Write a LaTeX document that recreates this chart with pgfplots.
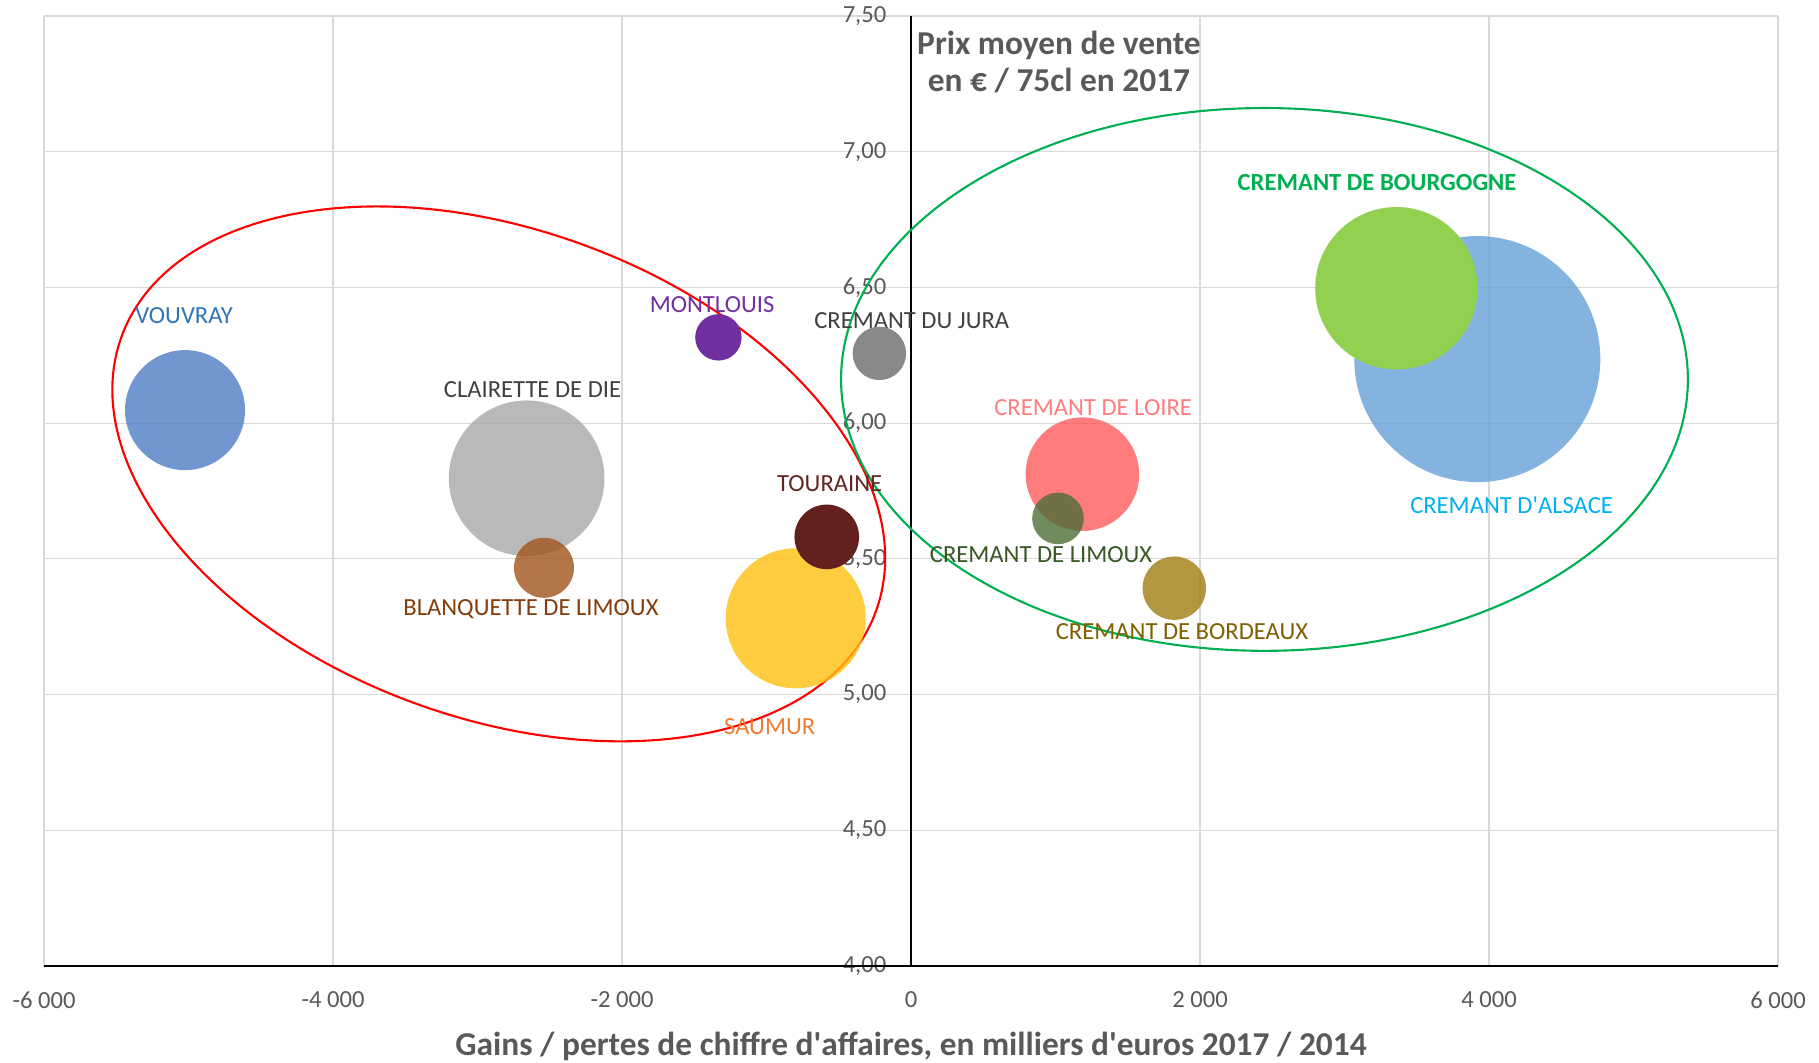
\documentclass[border=0pt]{standalone}
\usepackage{fontspec}
\setmainfont{Carlito}
\usepackage{pgfplots}
\usepackage{pgfplotstable}
\pgfplotsset{compat=1.18}

\definecolor{gridgray}{RGB}{217,217,217}
\definecolor{txtgray}{RGB}{89,89,89}
% bubble fills
\definecolor{bVou}{RGB}{79,124,196}
\definecolor{bCla}{RGB}{168,168,168}
\definecolor{bBla}{RGB}{161,84,28}
\definecolor{bMon}{RGB}{112,48,160}
\definecolor{bJur}{RGB}{137,137,137}
\definecolor{bSau}{RGB}{255,191,16}
\definecolor{bTou}{RGB}{99,32,30}
\definecolor{bLoi}{RGB}{255,91,91}
\definecolor{bLim}{RGB}{76,111,55}
\definecolor{bBor}{RGB}{160,124,16}
\definecolor{bAls}{RGB}{102,160,216}
\definecolor{bBou}{RGB}{146,208,80}
% label colours
\definecolor{lVou}{RGB}{46,117,182}
\definecolor{lDark}{RGB}{64,64,64}
\definecolor{lBla}{RGB}{132,60,12}
\definecolor{lMon}{RGB}{112,48,160}
\definecolor{lTou}{RGB}{99,37,35}
\definecolor{lSau}{RGB}{237,125,49}
\definecolor{lLoi}{RGB}{255,124,128}
\definecolor{lLim}{RGB}{56,87,35}
\definecolor{lBor}{RGB}{127,96,0}
\definecolor{lBou}{RGB}{0,176,80}
\definecolor{lAls}{RGB}{0,176,240}
\definecolor{cRed}{RGB}{255,0,0}
\definecolor{cGreen}{RGB}{0,176,80}

\tikzset{lab/.style={font=\fontsize{7}{8}\selectfont, inner sep=0pt, anchor=center}}

% x = gain/perte (kEUR), y = prix moyen, r = rayon de bulle (mm)
\pgfplotstableread{
x      y      r      cls
-5024  6.048  6.00   vou
-2660  5.797  7.78   cla
-2540  5.467  3.00   bla
-1333  6.316  2.32   mon
-219   6.257  2.67   jur
-798   5.281  7.00   sau
-583   5.581  3.23   tou
1186   5.812  5.68   loi
1017   5.649  2.58   lim
1822   5.392  3.17   bor
3919   6.236  12.30  als
3359   6.497  8.12   bou
}\bubbles

\begin{document}
\begin{tikzpicture}
\useasboundingbox (-0.44cm,-0.97cm) rectangle (17.75cm,9.66cm);
\begin{axis}[
  scale only axis,
  width=17.34cm, height=9.50cm,
  xmin=-6000, xmax=6000, ymin=4, ymax=7.5,
  xtick={-6000,-4000,-2000,0,2000,4000,6000},
  xticklabels={-6~000,-4~000,-2~000,0,2~000,4~000,6~000},
  ytick={4,4.5,5,5.5,6,6.5,7,7.5},
  yticklabels={{4,00},{4,50},{5,00},{5,50},{6,00},{6,50},{7,00},{7,50}},
  grid=major,
  grid style={gridgray, line width=0.35pt},
  axis line style={draw=none},
  major tick length=0pt,
  tick label style={font=\fontsize{7}{8}\selectfont, text=txtgray},
  xticklabel style={anchor=center, yshift=-0.34cm},
  yticklabel style={anchor=east, inner xsep=0pt, xshift=8.43cm},
  xlabel={Gains / pertes de chiffre d\textquotesingle affaires, en milliers d\textquotesingle euros 2017 / 2014},
  xlabel style={font=\bfseries\fontsize{9.5}{11}\selectfont, text=txtgray,
    at={(axis description cs:0.5,0)}, anchor=center, yshift=-0.80cm},
  clip=false,
]
% bulles
\addplot[scatter, only marks, mark=*,
  mark options={draw opacity=0},
  scatter src=explicit symbolic,
  scatter/classes={
    vou={fill=bVou, draw opacity=0, fill opacity=0.8},
    cla={fill=bCla, draw opacity=0, fill opacity=0.8},
    bla={fill=bBla, draw opacity=0, fill opacity=0.8},
    mon={fill=bMon, draw opacity=0},
    jur={fill=bJur, draw opacity=0},
    sau={fill=bSau, draw opacity=0, fill opacity=0.8},
    tou={fill=bTou, draw opacity=0},
    loi={fill=bLoi, draw opacity=0, fill opacity=0.8},
    lim={fill=bLim, draw opacity=0, fill opacity=0.8},
    bor={fill=bBor, draw opacity=0, fill opacity=0.8},
    als={fill=bAls, draw opacity=0, fill opacity=0.8},
    bou={fill=bBou, draw opacity=0}},
  visualization depends on={\thisrow{r} \as \rad},
  scatter/@pre marker code/.append style={/tikz/mark size=\rad mm},
] table[x=x, y=y, meta=cls] {\bubbles};

% axes noirs
\draw[black, line width=0.65pt] (axis cs:-6000,4) -- (axis cs:6000,4);
\draw[black, line width=0.4pt] (axis cs:0,4) -- (axis cs:0,7.5);

% ellipses de regroupement
\coordinate (rc) at (axis cs:-2853,5.813);
\draw[cRed, line width=0.6pt, rotate around={-20:(rc)}] (rc) ellipse [x radius=4.014cm, y radius=2.442cm];
\draw[cGreen, line width=0.6pt] (axis cs:2446,6.161) ellipse [x radius=4.234cm, y radius=2.714cm];

% étiquettes
\node[lab, text=lVou] at (axis cs:-5031,6.395) {VOUVRAY};
\node[lab, text=lDark] at (axis cs:-2619,6.122) {CLAIRETTE DE DIE};
\node[lab, text=lBla] at (axis cs:-2630,5.315) {BLANQUETTE DE LIMOUX};
\node[lab, text=lMon] at (axis cs:-1377,6.435) {MONTLOUIS};
\node[lab, text=lDark] at (axis cs:5,6.377) {CREMANT DU JURA};
\node[lab, text=lTou] at (axis cs:-563,5.776) {TOURAINE};
\node[lab, text=lSau] at (axis cs:-978,4.881) {SAUMUR};
\node[lab, text=lLoi] at (axis cs:1260,6.058) {CREMANT DE LOIRE};
\node[lab, text=lLim] at (axis cs:900,5.514) {CREMANT DE LIMOUX};
\node[lab, text=lBor] at (axis cs:1875,5.231) {CREMANT DE BORDEAUX};
\node[lab, text=lBou, font=\bfseries\fontsize{7}{8}\selectfont] at (axis cs:3225,6.886) {CREMANT DE BOURGOGNE};
\node[lab, text=lAls] at (axis cs:4156,5.698) {CREMANT D\textquotesingle ALSACE};

% titre de l'axe vertical
\node[font=\bfseries\fontsize{9.5}{10.6}\selectfont, text=txtgray, align=center, inner sep=0pt]
  at (axis cs:1024,7.33) {Prix moyen de vente\\en € / 75cl en 2017};
\end{axis}
\end{tikzpicture}
\end{document}
